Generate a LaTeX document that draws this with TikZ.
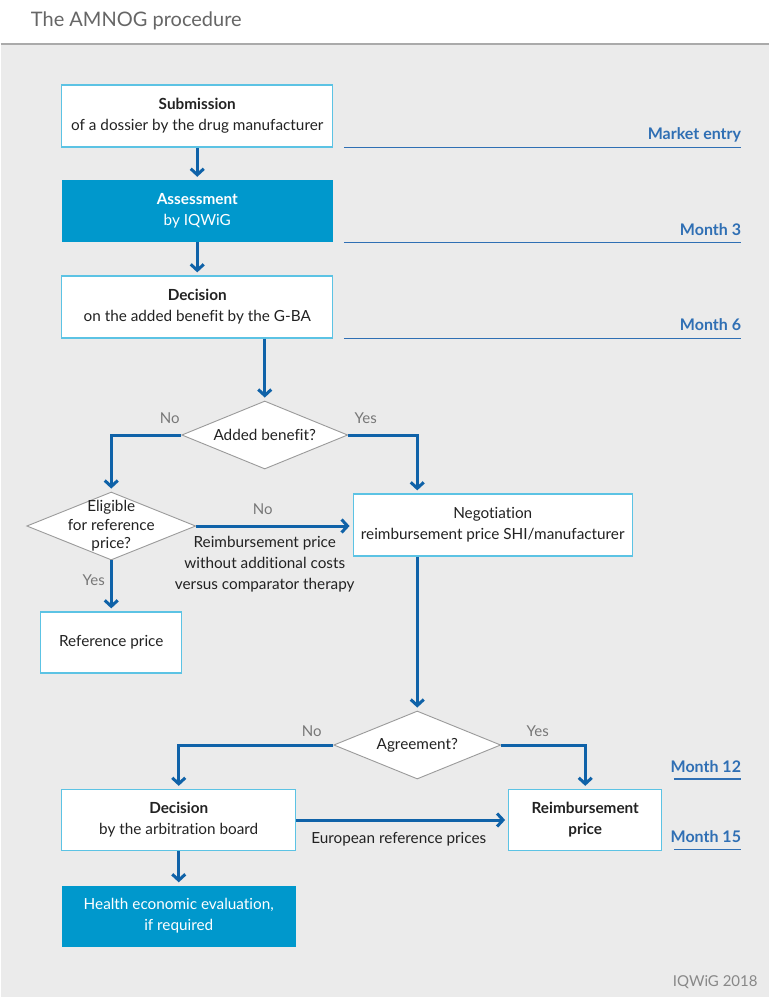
\documentclass[tikz,border=0pt]{standalone}
\usepackage{fontspec}
\setmainfont{Lato}[Ligatures={NoCommon}]
\usetikzlibrary{arrows.meta,shapes.geometric,calc}
\definecolor{bggray}{HTML}{EBEBEB}
\definecolor{titlegray}{HTML}{666666}
\definecolor{rulegray}{HTML}{AAAAAA}
\definecolor{boxline}{HTML}{5CC3E4}
\definecolor{cyanfill}{HTML}{0098CC}
\definecolor{arrblue}{HTML}{0F62A8}
\definecolor{tlblue}{HTML}{2F6FB4}
\definecolor{labgray}{HTML}{777777}
\definecolor{diagray}{HTML}{9A9A9A}
\definecolor{txt}{HTML}{222222}
\definecolor{footgray}{HTML}{888888}
\begin{document}
\begin{tikzpicture}[x=1pt,y=-1pt,
 box/.style={draw=boxline, line width=1.3pt, fill=white, inner sep=0pt, align=center, text=txt, font=\fontsize{15.3}{21}\selectfont},
 filledbox/.style={fill=cyanfill, inner sep=0pt, align=center, text=white, font=\fontsize{15.3}{21}\selectfont},
 dia/.style={diamond, draw=diagray, line width=0.9pt, fill=white, inner sep=0pt, shape aspect=2.4, text=txt, font=\fontsize{15.3}{19}\selectfont},
 arr/.style={draw=arrblue, line width=3pt, -{Straight Barb[length=6pt,width=13pt]}, shorten >=3pt},
 tl/.style={draw=tlblue, line width=1.6pt},
 tllab/.style={text=tlblue, font=\fontsize{16}{18}\selectfont\bfseries, anchor=base east, inner sep=0pt},
 yn/.style={text=labgray, font=\fontsize{15}{17}\selectfont, inner sep=0pt},
 note/.style={text=txt, font=\fontsize{15.3}{21}\selectfont, align=center, inner sep=0pt}
]
% background
\fill[white] (0,0) rectangle (768,44);
\fill[bggray] (0,44) rectangle (768,997);
\draw[rulegray, line width=1.5pt] (0,44) -- (768,44);
\useasboundingbox (0,0) rectangle (768,997);
\node[anchor=base west, inner sep=0pt, text=titlegray, font=\fontsize{20}{24}\selectfont] (title) at (30,26) {The AMNOG procedure};

% timeline
\coordinate (me-a) at (343,147.5); \coordinate (me-b) at (740.5,147.5);
\coordinate (m3-a) at (343,242.5); \coordinate (m3-b) at (740.5,242.5);
\coordinate (m6-a) at (343,338.5); \coordinate (m6-b) at (740.5,338.5);
\coordinate (m12-a) at (673,779); \coordinate (m12-b) at (740.5,779);
\coordinate (m15-a) at (673,849.5); \coordinate (m15-b) at (740.5,849.5);
\draw[tl] (me-a) -- (me-b);
\draw[tl] (m3-a) -- (m3-b);
\draw[tl] (m6-a) -- (m6-b);
\draw[tl] (m12-a) -- (m12-b);
\draw[tl] (m15-a) -- (m15-b);
\node[tllab] (me-l) at (740.5,139) {Market entry};
\node[tllab] (m3-l) at (740.5,235) {Month 3};
\node[tllab] (m6-l) at (740.5,330.5) {Month 6};
\node[tllab] (m12-l) at (740.5,772) {Month 12};
\node[tllab] (m15-l) at (740.5,842) {Month 15};

% boxes
\node[box, minimum width=271pt, minimum height=62pt] (sub) at (196.5,116) {\textbf{Submission}\\of a dossier by the drug manufacturer};
\node[filledbox, minimum width=271pt, minimum height=62pt] (ass) at (196.5,211) {\textbf{Assessment}\\by IQWiG};
\node[box, minimum width=271pt, minimum height=62pt] (dec) at (196.5,307) {\textbf{Decision}\\on the added benefit by the G-BA};
\node[dia, minimum width=166pt, minimum height=68pt] (added) at (264,435) {Added benefit?};
\node[dia, minimum width=169pt, minimum height=68pt] (elig) at (110.5,526) {};
\node[note, font=\fontsize{15.3}{18.5}\selectfont] (eligt) at (elig.center) {Eligible\\for reference\\price?};
\node[box, minimum width=279pt, minimum height=62pt] (neg) at (492,525) {Negotiation\\reimbursement price SHI/manufacturer};
\node[box, minimum width=141pt, minimum height=61pt] (ref) at (110.5,642.5) {Reference price};
\node[dia, minimum width=167pt, minimum height=68pt] (agree) at (416.5,745) {Agreement?};
\node[box, minimum width=234pt, minimum height=61pt] (dec2) at (178,820) {\textbf{Decision}\\by the arbitration board};
\node[box, minimum width=153pt, minimum height=61pt] (reimb) at (584.5,820) {\textbf{Reimbursement}\\\textbf{price}};
\node[filledbox, minimum width=234pt, minimum height=61pt] (hee) at (178,916) {Health economic evaluation,\\if required};

% connectors
\draw[arr] (sub) -- (ass);
\draw[arr] (ass) -- (dec);
\draw[arr] (added.north |- dec.south) -- (added.north);
\draw[arr] (added.west) -| (elig.north);
\draw[arr] (added.east) -| (agree.north |- neg.north);
\draw[arr] (elig.east) -- (elig.east -| neg.west);
\draw[arr] (elig.south) -- (ref.north);
\draw[arr] (agree.north |- neg.south) -- (agree.north);
\draw[arr] (agree.west) -| (dec2.north);
\draw[arr] (agree.east) -| (reimb.north);
\draw[arr] (dec2.east) -- (dec2.east -| reimb.west);
\draw[arr] (dec2) -- (hee);

% labels
\node[yn] (no1) at (169,418) {No};
\node[yn] (yes1) at (365,418) {Yes};
\node[yn] (no2) at (262,509) {No};
\node[yn] (yes2) at (93,580) {Yes};
\node[yn] (no3) at (311,731) {No};
\node[yn] (yes3) at (537,731) {Yes};
\node[note] (rpnote) at (264,564) {Reimbursement price\\without additional costs\\versus comparator therapy};
\node[note] (eur) at (398,839) {European reference prices};

% footer
\node[anchor=base east, inner sep=0pt, text=footgray, font=\fontsize{15}{17}\selectfont] (foot) at (757,986) {IQWiG 2018};
\end{tikzpicture}
\end{document}
